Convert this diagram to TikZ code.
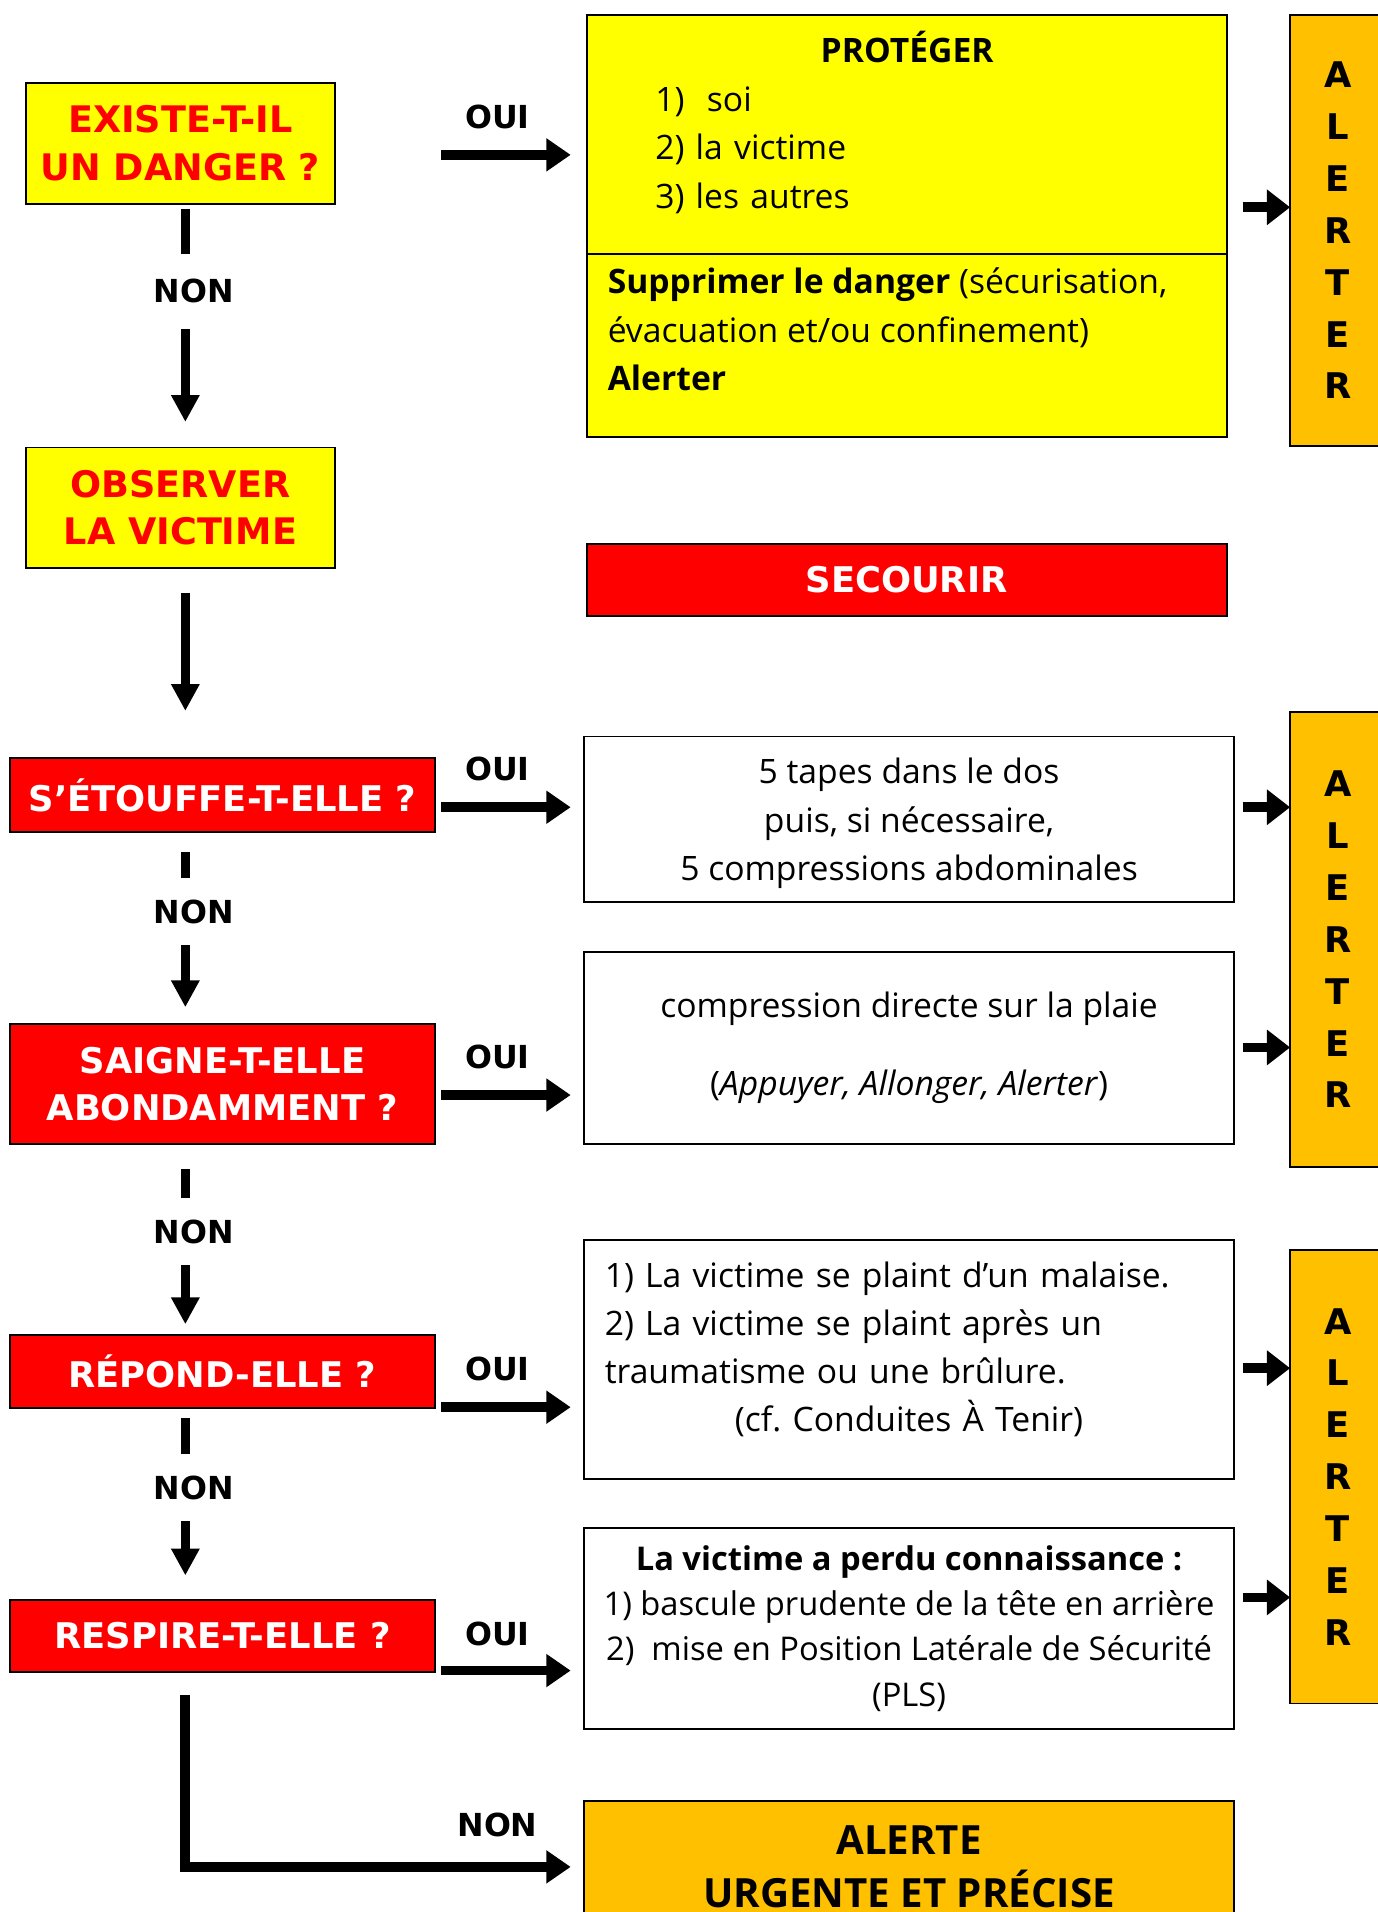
\documentclass[tikz,border=0pt]{standalone}
\usepackage{fontspec}
\setmainfont{Open Sans}
\newfontfamily\capsfont{DejaVu Sans}
\usepackage{tikz}
\usetikzlibrary{arrows.meta,positioning}
\definecolor{jaune}{HTML}{FFFF00}
\definecolor{rouge}{HTML}{FF0000}
\definecolor{alerte}{HTML}{FFC000}
\tikzset{box/.style={draw=black,line width=0.8pt,inner sep=0pt,outer sep=0pt}}
\tikzset{danger/.style={box,fill=jaune,text=rouge,align=center,minimum width=127pt,minimum height=49.5pt,
    font=\capsfont\bfseries\fontsize{15}{19.5}\selectfont}}
\tikzset{question/.style={box,fill=rouge,text=white,align=center,minimum width=174.5pt,
    font=\capsfont\bfseries\fontsize{14.5}{19.5}\selectfont}}
\tikzset{action/.style={box,fill=white,minimum width=266.5pt,font=\fontsize{13.8}{20}\selectfont}}
\tikzset{alerter/.style={box,fill=alerte,align=center,minimum width=39pt,
    font=\capsfont\bfseries\fontsize{14.5}{21.25}\selectfont}}
\tikzset{reponse/.style={inner sep=0pt,outer sep=0pt,font=\capsfont\bfseries\fontsize{13}{15}\selectfont}}
\tikzset{nonlbl/.style={reponse,minimum height=27.5pt}}
\tikzset{stem/.style={line width=3.8pt}}
\tikzset{down/.style={line width=3.8pt,-{Triangle[length=11pt,width=11pt]}}}
\tikzset{flow/.style={line width=4pt,-{Triangle[length=10pt,width=13pt]}}}
\tikzset{toalert/.style={line width=4pt,-{Triangle[length=9.5pt,width=14pt]}}}

\begin{document}
\begin{tikzpicture}[x=0.5pt,y=-0.5pt]
  \fill[white] (0,0) rectangle (1130,1568);
  \useasboundingbox (0,0) rectangle (1130,1568);
  \clip (0,0) rectangle (1130,1568);
  \coordinate (spine) at (152,0);

  % questions, left column
  \node[danger](exist) at (148,117.5){EXISTE-T-IL\\UN DANGER ?};
  \node[danger](observe) at (148,416.5){OBSERVER\\LA VICTIME};
  \node[question,minimum height=30pt](etouffe) at (182.5,652){S’ÉTOUFFE-T-ELLE ?};
  \node[question,minimum height=49pt](saigne) at (182.5,889){SAIGNE-T-ELLE\\ABONDAMMENT ?};
  \node[question,minimum height=30pt](repond) at (182.5,1125){RÉPOND-ELLE ?};
  \node[question,minimum height=29.5pt](respire) at (182.5,1341.5){RESPIRE-T-ELLE ?};

  % actions, middle column
  \node[box,fill=jaune,minimum width=262.5pt,minimum height=98pt](protTop) at (743.5,110){};
  \node[box,fill=jaune,minimum width=262.5pt,minimum height=75pt,below=0pt of protTop](protBot){};
  \node[anchor=north west,inner sep=0pt,text width=245.5pt,align=left,font=\fontsize{13.8}{20}\selectfont]
    (protList) at ([xshift=8.5pt,yshift=-6.5pt]protTop.north west)
    {\hfill\textbf{PROTÉGER}\hfill\null\\
     \hspace*{19.5pt}1)~~soi\\
     \hspace*{19.5pt}2) la victime\\
     \hspace*{19.5pt}3) les autres};
  \node[anchor=north west,inner sep=0pt,align=left,font=\fontsize{13.8}{20}\selectfont]
    (protText) at ([xshift=8.5pt,yshift=-5.5pt]protBot.north west)
    {\textbf{Supprimer le danger} (sécurisation,\\évacuation et/ou confinement)\\\textbf{Alerter}};
  \node[box,fill=rouge,text=white,minimum width=262.5pt,minimum height=29.5pt,
    font=\capsfont\bfseries\fontsize{14.5}{18}\selectfont](secourir) at (743.5,475.5){SECOURIR};
  \node[action,minimum height=68pt,align=center,text depth=0pt](tapes) at (745.5,672)
    {5 tapes dans le dos\\puis, si nécessaire,\\5 compressions abdominales};
  \node[action,minimum height=78.5pt,align=center](compress) at (745.5,859.5)
    {compression directe sur la plaie\\[12pt](\textit{Appuyer, Allonger, Alerter})};
  \node[action,minimum height=98pt,text width=249.5pt,align=left,
    font=\fontsize{13.8}{19.6}\selectfont](malaise) at (745.5,1115)
    {1) La victime se plaint d’un malaise.\\
     2) La victime se plaint après un\\
     traumatisme ou une brûlure.\\
     \hfill(cf.\ Conduites À Tenir)\hfill\null\\[-9pt]\null};
  \node[action,minimum height=82.5pt,align=center,font=\fontsize{13.4}{18.5}\selectfont](pls) at (745.5,1335.5)
    {\textbf{La victime a perdu connaissance :}\\
     1) bascule prudente de la tête en arrière\\
     2)~~mise en Position Latérale de Sécurité\\
     (PLS)};
  \node[box,fill=alerte,minimum width=266.5pt,minimum height=54pt,align=center,
    font=\bfseries\fontsize{16.5}{21.5}\selectfont](urgent) at (745.5,1531)
    {ALERTE\\URGENTE ET PRÉCISE};

  % alerter, right column
  \node[alerter,minimum height=177pt](alert1) at (1097,189){A\\L\\E\\R\\T\\E\\R};
  \node[alerter,minimum height=186.5pt](alert2) at (1097,770.5){A\\L\\E\\R\\T\\E\\R};
  \node[alerter,minimum height=186pt](alert3) at (1097,1211){A\\L\\E\\R\\T\\E\\R};

  % oui / non
  \node[reponse](oui1) at (408,96){OUI};
  \node[reponse](oui2) at (408,631){OUI};
  \node[reponse](oui3) at (408,867){OUI};
  \node[reponse](oui4) at (408,1123){OUI};
  \node[reponse](oui5) at (408,1340){OUI};
  \node[nonlbl,minimum height=31pt](non1) at (159,239){NON};
  \node[nonlbl](non2) at (159,747.5){NON};
  \node[nonlbl](non3) at (159,1010){NON};
  \node[nonlbl](non4) at (159,1220){NON};
  \node[reponse](non5) at (408,1497){NON};

  \coordinate (o1) at (362,127);
  \coordinate (o2) at (362,662);
  \coordinate (o3) at (362,898);
  \coordinate (o4) at (362,1154);
  \coordinate (o5) at (362,1370);
  \coordinate (a1) at (1019,170);
  \coordinate (a2) at (1019,662);
  \coordinate (a3) at (1019,859);
  \coordinate (a4) at (1019,1122);
  \coordinate (a5) at (1019,1310);

  % non branch
  \draw[stem,shorten <=2pt] (exist.south -| spine) -- (non1.north -| spine);
  \draw[down,shorten >=10.5pt] (non1.south -| spine) -- (observe.north -| spine);
  \draw[down,shorten <=10pt,shorten >=19.5pt] (observe.south -| spine) -- (etouffe.north -| spine);
  \draw[stem,shorten <=8.5pt] (etouffe.south -| spine) -- (non2.north -| spine);
  \draw[down,shorten >=7pt] (non2.south -| spine) -- (saigne.north -| spine);
  \draw[stem,shorten <=10.5pt] (saigne.south -| spine) -- (non3.north -| spine);
  \draw[down,shorten >=4.5pt] (non3.south -| spine) -- (repond.north -| spine);
  \draw[stem,shorten <=4pt] (repond.south -| spine) -- (non4.north -| spine);
  \draw[down,shorten >=10pt] (non4.south -| spine) -- (respire.north -| spine);
  \draw[flow,shorten <=9.5pt,shorten >=5.5pt] (respire.south -| spine) |- (urgent.west);

  % oui branch
  \draw[flow,shorten >=6.5pt] (o1) -- (o1 -| protTop.west);
  \draw[flow,shorten >=5.5pt] (o2) -- (o2 -| tapes.west);
  \draw[flow,shorten >=5.5pt] (o3) -- (o3 -| compress.west);
  \draw[flow,shorten >=5.5pt] (o4) -- (o4 -| malaise.west);
  \draw[flow,shorten >=5.5pt] (o5) -- (o5 -| pls.west);

  \draw[toalert] (a1) -- (a1 -| alert1.west);
  \draw[toalert] (a2) -- (a2 -| alert2.west);
  \draw[toalert] (a3) -- (a3 -| alert2.west);
  \draw[toalert] (a4) -- (a4 -| alert3.west);
  \draw[toalert] (a5) -- (a5 -| alert3.west);
\end{tikzpicture}
\end{document}
